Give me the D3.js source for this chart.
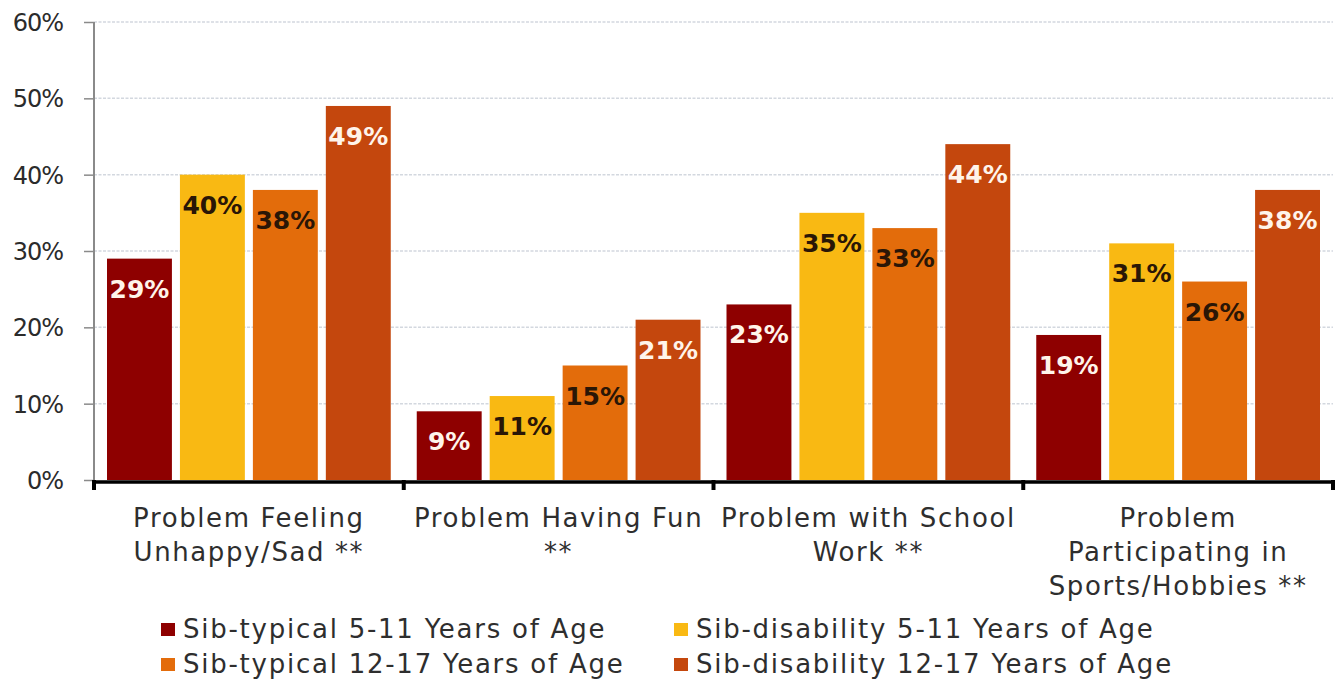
<!DOCTYPE html>
<html>
<head>
<meta charset="utf-8">
<script src="https://cdn.jsdelivr.net/npm/d3@7"></script>
<style>
  html, body { margin: 0; padding: 0; background: #ffffff; }
  svg { display: block; }
  text { font-family: "DejaVu Sans", Verdana, sans-serif; }
</style>
</head>
<body>
<svg id="chart" width="1339" height="688"></svg>
<script>
// Share of siblings reporting each problem, by group (percent)
const categories = [
  ["Problem Feeling", "Unhappy/Sad **"],
  ["Problem Having Fun", "**"],
  ["Problem with School", "Work **"],
  ["Problem", "Participating in", "Sports/Hobbies **"]
];
const seriesNames = [
  "Sib-typical 5-11 Years of Age",
  "Sib-disability 5-11 Years of Age",
  "Sib-typical 12-17 Years of Age",
  "Sib-disability 12-17 Years of Age"
];
const sibTypical5to11     = [29, 9, 23, 19];
const sibDisability5to11  = [40, 11, 35, 31];
const sibTypical12to17    = [38, 15, 33, 26];
const sibDisability12to17 = [49, 21, 44, 38];
const yTicks = [0, 10, 20, 30, 40, 50, 60];

const seriesValues = [sibTypical5to11, sibDisability5to11, sibTypical12to17, sibDisability12to17];
const colors = ["#8e0000", "#f9b913", "#e36c0b", "#c4470d"];
const labelColors = ["#fff4ea", "#2a1606", "#2a1606", "#fff4ea"];

const svg = d3.select("#chart");
const plotLeft = 94, plotRight = 1333, plotTop = 22, plotBottom = 480;

const catKeys = categories.map((c, i) => i);
const x = d3.scaleBand().domain(catKeys).range([plotLeft, plotRight]).padding(0);
const xs = d3.scaleBand().domain(d3.range(seriesNames.length))
  .range([13, x.bandwidth() - 13]).paddingInner(0.11);
const y = d3.scaleLinear().domain([0, 60]).range([plotBottom, plotTop]);

// gridlines
svg.append("g")
  .selectAll("line")
  .data(yTicks.filter(d => d > 0))
  .join("line")
  .attr("x1", plotLeft).attr("x2", plotRight)
  .attr("y1", d => y(d)).attr("y2", d => y(d))
  .attr("stroke", "#d3d8df").attr("stroke-width", 1.5)
  .attr("stroke-dasharray", "3,1.5");

// y axis
const yAxis = d3.axisLeft(y).tickValues(yTicks).tickSize(10).tickFormat(d => d + "%");
const gy = svg.append("g").attr("transform", `translate(${plotLeft},0)`).call(yAxis);
gy.select(".domain").attr("stroke", "#8a8a8a").attr("stroke-width", 2)
  .attr("d", `M0,${plotTop}V${plotBottom}`);
gy.selectAll(".tick line").attr("stroke", "#8a8a8a").attr("stroke-width", 1.5);
gy.selectAll(".tick text")
  .attr("x", -31).attr("dy", "0.36em")
  .attr("fill", "#2b2b2b")
  .style("font-size", "24px")
  .style("letter-spacing", "-1px")
  .style("font-family", "'DejaVu Sans', sans-serif");

// bars
const groups = svg.append("g").selectAll("g")
  .data(catKeys)
  .join("g")
  .attr("transform", i => `translate(${x(i)},0)`);

groups.selectAll("rect")
  .data(i => seriesValues.map((vals, s) => ({ s, v: vals[i] })))
  .join("rect")
  .attr("x", d => xs(d.s))
  .attr("width", xs.bandwidth())
  .attr("y", d => y(d.v))
  .attr("height", d => y(0) - y(d.v))
  .attr("fill", d => colors[d.s]);

// value labels
groups.selectAll("text.val")
  .data(i => seriesValues.map((vals, s) => ({ s, v: vals[i] })))
  .join("text")
  .attr("class", "val")
  .attr("x", d => xs(d.s) + xs.bandwidth() / 2)
  .attr("y", d => y(d.v) + 39)
  .attr("text-anchor", "middle")
  .attr("fill", d => labelColors[d.s])
  .style("font-size", "25px")
  .style("font-weight", "bold")
  .style("font-family", "'DejaVu Sans', Verdana, sans-serif")
  .text(d => d.v + "%");

// x axis baseline and category separators
const xAxis = d3.axisBottom(x).tickValues([]).tickSizeOuter(0);
const gx = svg.append("g").attr("transform", `translate(0,${plotBottom + 1.5})`).call(xAxis);
gx.select(".domain").attr("stroke", "#000").attr("stroke-width", 3.5);
svg.append("g").selectAll("line")
  .data(catKeys.map(i => x(i)).concat([plotRight]))
  .join("line")
  .attr("x1", d => d).attr("x2", d => d)
  .attr("y1", plotBottom).attr("y2", plotBottom + 10)
  .attr("stroke", "#000").attr("stroke-width", 4);

// category labels
const catLabels = svg.append("g").selectAll("text")
  .data(catKeys)
  .join("text")
  .attr("text-anchor", "middle")
  .attr("fill", "#2e2e2e")
  .style("font-size", "26px")
  .style("letter-spacing", "1.6px");
catLabels.selectAll("tspan")
  .data(i => categories[i].map(line => ({ i, line })))
  .join("tspan")
  .attr("x", d => x(d.i) + x.bandwidth() / 2)
  .attr("y", (d, k) => 527 + k * 34)
  .text(d => d.line);

// legend
const legendPos = [
  { x: 161, y: 638 }, { x: 674, y: 638 },
  { x: 161, y: 673 }, { x: 674, y: 673 }
];
const legend = svg.append("g").selectAll("g")
  .data(seriesNames)
  .join("g")
  .attr("transform", (d, i) => `translate(${legendPos[i].x},${legendPos[i].y})`);
legend.append("rect")
  .attr("x", 0).attr("y", -15).attr("width", 14).attr("height", 13)
  .attr("fill", (d, i) => colors[i]);
legend.append("text")
  .attr("x", 22).attr("y", 0)
  .attr("fill", "#2e2e2e")
  .style("font-size", "26px")
  .style("letter-spacing", "1.75px")
  .text(d => d);
</script>
</body>
</html>
